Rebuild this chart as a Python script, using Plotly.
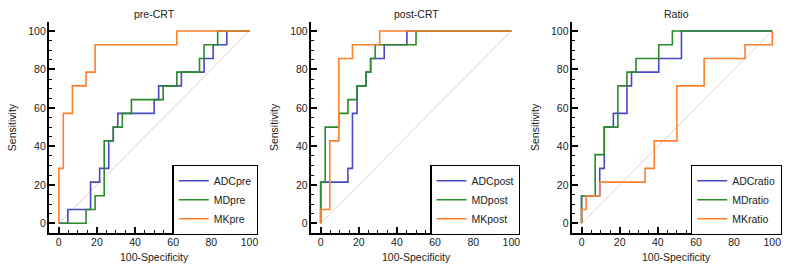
import plotly.graph_objects as go

# ---- data (ROC step corners; 'hv' steps) ----
pre_adc_x = [0, 4.76, 16.67, 21.43, 26.19, 28.57, 30.95, 50.00, 52.38, 64.29, 76.19, 80.95, 88.10, 100]
pre_adc_y = [0, 7.14, 21.43, 28.57, 42.86, 50.00, 57.14, 64.29, 71.43, 78.57, 85.71, 92.86, 100, 100]
pre_md_x = [0, 14.29, 19.05, 23.81, 28.57, 33.33, 38.10, 54.76, 61.90, 73.81, 76.19, 83.33, 100]
pre_md_y = [0, 7.14, 14.29, 42.86, 50.00, 57.14, 64.29, 71.43, 78.57, 85.71, 92.86, 100, 100]
pre_mk_x = [0, 0, 2.38, 7.14, 14.29, 19.05, 61.90, 100]
pre_mk_y = [0, 28.57, 57.14, 71.43, 78.57, 92.86, 100, 100]

post_adc_x = [0, 0, 14.29, 16.67, 19.05, 23.81, 26.19, 33.33, 45.24, 100]
post_adc_y = [0, 21.43, 28.57, 57.14, 71.43, 78.57, 85.71, 92.86, 100, 100]
post_md_x = [0, 0, 2.38, 9.52, 14.29, 19.05, 23.81, 26.19, 28.57, 50.00, 100]
post_md_y = [0, 21.43, 50.00, 57.14, 64.29, 71.43, 78.57, 85.71, 92.86, 100, 100]
post_mk_x = [0, 0, 4.76, 9.52, 16.67, 30.95, 100]
post_mk_y = [0, 7.14, 42.86, 85.71, 92.86, 100, 100]

ratio_adc_x = [0, 0, 9.52, 11.90, 16.67, 23.81, 26.19, 40.48, 52.38, 100]
ratio_adc_y = [0, 14.29, 28.57, 50.00, 57.14, 71.43, 78.57, 85.71, 100, 100]
ratio_md_x = [0, 0, 7.14, 11.90, 19.05, 23.81, 28.57, 40.48, 47.62, 100]
ratio_md_y = [0, 14.29, 35.71, 50.00, 71.43, 78.57, 85.71, 92.86, 100, 100]
ratio_mk_x = [0, 0, 2.38, 9.52, 33.33, 38.10, 50.00, 64.29, 85.71, 100]
ratio_mk_y = [0, 7.14, 14.29, 21.43, 28.57, 42.86, 71.43, 85.71, 92.86, 100]

diag = [0, 100]
panel_titles = ["pre-CRT", "post-CRT", "Ratio"]
x_title = "100-Specificity"
y_title = "Sensitivity"

panels = [
    [("ADCpre", pre_adc_x, pre_adc_y), ("MDpre", pre_md_x, pre_md_y), ("MKpre", pre_mk_x, pre_mk_y)],
    [("ADCpost", post_adc_x, post_adc_y), ("MDpost", post_md_x, post_md_y), ("MKpost", post_mk_x, post_mk_y)],
    [("ADCratio", ratio_adc_x, ratio_adc_y), ("MDratio", ratio_md_x, ratio_md_y), ("MKratio", ratio_mk_x, ratio_mk_y)],
]
colors = ["#4848c4", "#2a8a2a", "#ff7f2a"]

W, H = 800, 275
FONT = "Liberation Sans, Arial, sans-serif"
TXT = "#222222"

# pixel layout of each panel's axes box
x_left = [49.3, 313.5, 576.7]
box_w = 204.3
y_top, y_bot = 22.3, 233.3
legend_boxes = [(174.0, 165), (434.0, 165), (697.0, 165)]

fig = go.Figure()
for p, series in enumerate(panels):
    sfx = "" if p == 0 else str(p + 1)
    xa, ya = "x" + sfx, "y" + sfx
    lg = "legend" + sfx
    fig.add_trace(go.Scatter(x=diag, y=diag, mode="lines", xaxis=xa, yaxis=ya,
                             line=dict(color="#e3cccc", width=1), showlegend=False, hoverinfo="skip"))
    for (name, xs, ys), c in zip(series, colors):
        fig.add_trace(go.Scatter(x=xs, y=ys, mode="lines", name=name, xaxis=xa, yaxis=ya,
                                 line=dict(color=c, width=1.6, shape="hv"), legend=lg))

    axis_common = dict(showgrid=False, zeroline=False, showline=True, linecolor="black", linewidth=2,
                       ticks="inside", ticklen=6, tickwidth=1.5, tickcolor="black", dtick=20, tick0=0,
                       minor=dict(ticks="inside", ticklen=3.5, tickwidth=1.2, tickcolor="black", dtick=5),
                       tickfont=dict(family=FONT, size=10.5, color=TXT), fixedrange=True)
    d0 = x_left[p] / W
    d1 = (x_left[p] + box_w) / W
    fig.update_layout(**{
        "xaxis" + sfx: dict(axis_common, domain=[d0, d1], range=[-5.2, 101], anchor=ya,
                            ticklabelstandoff=-2),
        "yaxis" + sfx: dict(axis_common, domain=[1 - y_bot / H, 1 - y_top / H], range=[-5.2, 104.5], anchor=xa,
                            ticklabelstandoff=-1),
        lg: dict(x=legend_boxes[p][0] / W, y=1 - legend_boxes[p][1] / H, xanchor="left", yanchor="top",
                 bgcolor="white", bordercolor="black", borderwidth=1.3,
                 font=dict(family=FONT, size=10.5, color=TXT), itemwidth=30, tracegroupgap=0),
    })
    cx = (x_left[p] + 10 + 50 * 1.924) / W
    ann_font = dict(family=FONT, size=10.5, color=TXT)
    fig.add_annotation(text=panel_titles[p], x=cx, y=1 - 14 / H, xref="paper", yref="paper",
                       xanchor="center", yanchor="middle", showarrow=False, font=ann_font)
    fig.add_annotation(text=x_title, x=cx, y=1 - 257 / H, xref="paper", yref="paper",
                       xanchor="center", yanchor="middle", showarrow=False, font=ann_font)
    fig.add_annotation(text=y_title, x=(x_left[p] - 37) / W, y=1 - 127 / H, xref="paper", yref="paper",
                       xanchor="center", yanchor="middle", showarrow=False, textangle=-90, font=ann_font)

fig.update_layout(width=W, height=H, margin=dict(l=0, r=0, t=0, b=0),
                  paper_bgcolor="white", plot_bgcolor="white", showlegend=True)
fig.write_html("out.html", config={"displayModeBar": False},
               post_script="document.body.style.margin='0px';")
